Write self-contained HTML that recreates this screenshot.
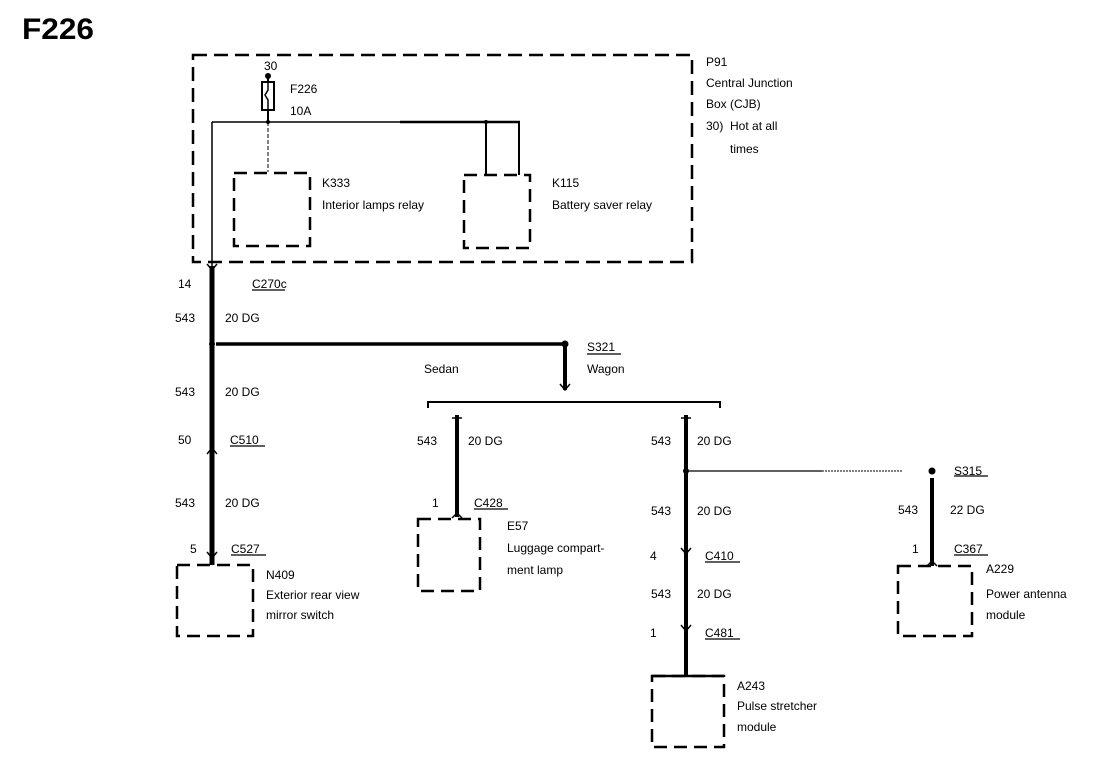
<!DOCTYPE html>
<html><head><meta charset="utf-8"><style>
html,body{margin:0;padding:0;background:#fff;}
svg{display:block;}
text{font-family:"Liberation Sans",sans-serif;font-size:12px;fill:#000;}
</style></head><body>
<svg width="1120" height="764" viewBox="0 0 1120 764" xmlns="http://www.w3.org/2000/svg">
<g fill="none" stroke="#000">
<rect x="193" y="55" width="499" height="207" stroke-width="2.5" stroke-dasharray="14,7"/>
<rect x="262" y="82" width="12" height="28" stroke-width="2"/>
<path d="M268 82 v8 l-3 5 l3 5 v10" stroke-width="1.5"/>
<line x1="268" y1="76" x2="268" y2="82" stroke-width="2"/>
<line x1="268" y1="110" x2="268" y2="122" stroke-width="2"/>
<line x1="212" y1="122" x2="400" y2="122" stroke-width="1.5"/>
<line x1="400" y1="122" x2="520" y2="122" stroke-width="2.5"/>
<line x1="212" y1="122" x2="212" y2="268" stroke-width="1.5"/>
<line x1="268" y1="122" x2="268" y2="172" stroke-width="1" stroke-dasharray="4,2"/>
<line x1="486" y1="122" x2="486" y2="175" stroke-width="2"/>
<line x1="519" y1="122" x2="519" y2="175" stroke-width="2"/>
<rect x="234" y="173" width="76" height="73" stroke-width="2.5" stroke-dasharray="13,7"/>
<rect x="464" y="175" width="66" height="73" stroke-width="2.5" stroke-dasharray="13,7"/>
<line x1="212" y1="266" x2="212" y2="565" stroke-width="5"/>
<path d="M207 264 l5 6 l5 -6" stroke-width="1.5"/>
<path d="M207 454 l5 -6 l5 6" stroke-width="1.5"/>
<path d="M207 552 l5 6 l5 -6" stroke-width="1.5"/>
<line x1="216" y1="344" x2="565" y2="344" stroke-width="3.5"/>
<line x1="565" y1="344" x2="565" y2="390" stroke-width="4"/>
<path d="M560 384 l5 6 l5 -6" stroke-width="1.5"/>
<path d="M428 408 v-6 h292 v6" stroke-width="2"/>
<line x1="457" y1="415" x2="457" y2="517" stroke-width="4"/>
<path d="M452 418 h10 M457 416 v2" stroke-width="1.5"/>
<path d="M452 518 l5 -5 l5 5" stroke-width="1.5"/>
<rect x="418" y="519" width="62" height="72" stroke-width="2.5" stroke-dasharray="13,7"/>
<line x1="686" y1="415" x2="686" y2="676" stroke-width="4"/>
<path d="M681 418 h10" stroke-width="1.5"/>
<path d="M681 548 l5 6 l5 -6" stroke-width="1.5"/>
<path d="M681 625 l5 6 l5 -6" stroke-width="1.5"/>
<line x1="686" y1="471" x2="822" y2="471" stroke-width="1.2"/>
<line x1="822" y1="471" x2="902" y2="471" stroke-width="1" stroke-dasharray="2,1"/>
<rect x="652" y="676" width="72" height="71" stroke-width="2.5" stroke-dasharray="13,7"/>
<line x1="652" y1="676" x2="724" y2="676" stroke-width="2.5"/>
<line x1="932" y1="478" x2="932" y2="566" stroke-width="4"/>
<path d="M927 566 l5 -5 l5 5" stroke-width="1.5"/>
<rect x="898" y="566" width="74" height="70" stroke-width="2.5" stroke-dasharray="13,7"/>
<rect x="177" y="565" width="76" height="71" stroke-width="2.5" stroke-dasharray="13,7"/>
<g stroke-width="1.2">
<line x1="252" y1="290" x2="285" y2="290"/>
<line x1="230" y1="446" x2="265" y2="446"/>
<line x1="231" y1="555" x2="266" y2="555"/>
<line x1="587" y1="354" x2="621" y2="354"/>
<line x1="474" y1="509" x2="508" y2="509"/>
<line x1="705" y1="562" x2="740" y2="562"/>
<line x1="705" y1="639" x2="740" y2="639"/>
<line x1="954" y1="476" x2="988" y2="476"/>
<line x1="954" y1="555" x2="988" y2="555"/>
</g>
</g>
<g fill="#000">
<circle cx="268" cy="76" r="3"/>
<circle cx="268" cy="122" r="2"/>
<circle cx="486" cy="122" r="2"/>
<circle cx="212" cy="344" r="3"/>
<circle cx="565" cy="344" r="3.5"/>
<circle cx="686" cy="471" r="3"/>
<circle cx="932" cy="471" r="3.5"/>
</g>
<text x="22" y="39" style="font-size:30px;font-weight:bold" textLength="72" lengthAdjust="spacingAndGlyphs">F226</text>
<text x="264" y="70">30</text>
<text x="290" y="93">F226</text>
<text x="290" y="115">10A</text>
<text x="322" y="187">K333</text>
<text x="322" y="209">Interior lamps relay</text>
<text x="552" y="187">K115</text>
<text x="552" y="209">Battery saver relay</text>
<text x="706" y="66">P91</text>
<text x="706" y="87">Central Junction</text>
<text x="706" y="108">Box (CJB)</text>
<text x="706" y="130">30)&#160;&#160;Hot at all</text>
<text x="730" y="153">times</text>
<text x="178" y="288">14</text>
<text x="252" y="288">C270c</text>
<text x="175" y="322">543</text>
<text x="225" y="322">20 DG</text>
<text x="587" y="351">S321</text>
<text x="587" y="373">Wagon</text>
<text x="424" y="373">Sedan</text>
<text x="175" y="396">543</text>
<text x="225" y="396">20 DG</text>
<text x="178" y="444">50</text>
<text x="230" y="444">C510</text>
<text x="175" y="507">543</text>
<text x="225" y="507">20 DG</text>
<text x="190" y="553">5</text>
<text x="231" y="553">C527</text>
<text x="266" y="579">N409</text>
<text x="266" y="599">Exterior rear view</text>
<text x="266" y="619">mirror switch</text>
<text x="417" y="445">543</text>
<text x="468" y="445">20 DG</text>
<text x="432" y="507">1</text>
<text x="474" y="507">C428</text>
<text x="507" y="530">E57</text>
<text x="507" y="552">Luggage compart-</text>
<text x="507" y="574">ment lamp</text>
<text x="651" y="445">543</text>
<text x="697" y="445">20 DG</text>
<text x="651" y="515">543</text>
<text x="697" y="515">20 DG</text>
<text x="650" y="560">4</text>
<text x="705" y="560">C410</text>
<text x="651" y="598">543</text>
<text x="697" y="598">20 DG</text>
<text x="650" y="637">1</text>
<text x="705" y="637">C481</text>
<text x="737" y="690">A243</text>
<text x="737" y="710">Pulse stretcher</text>
<text x="737" y="731">module</text>
<text x="954" y="475">S315</text>
<text x="898" y="514">543</text>
<text x="950" y="514">22 DG</text>
<text x="912" y="553">1</text>
<text x="954" y="553">C367</text>
<text x="986" y="573">A229</text>
<text x="986" y="598">Power antenna</text>
<text x="986" y="619">module</text>
</svg>
</body></html>
